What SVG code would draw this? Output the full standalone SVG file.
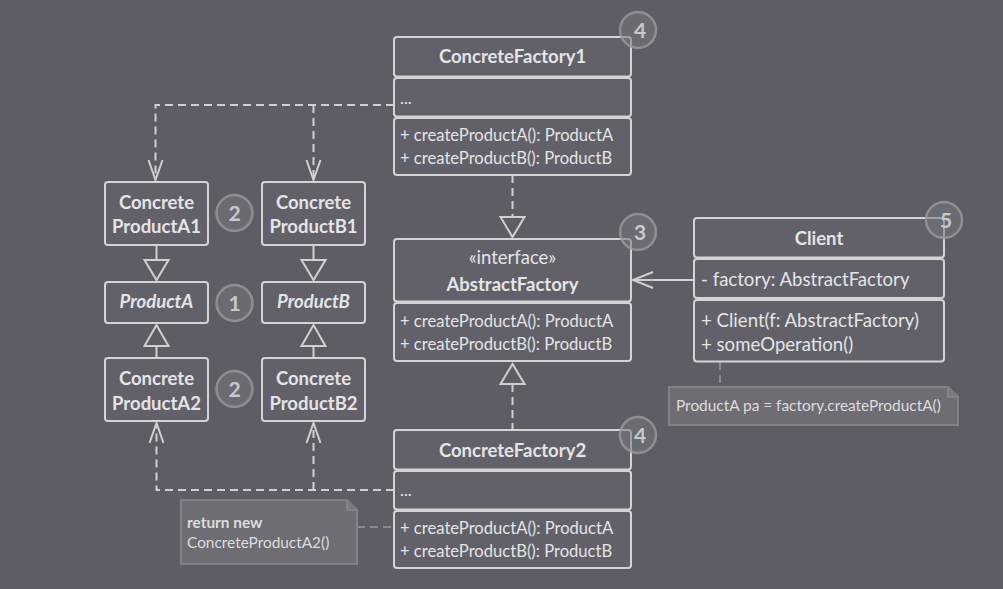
<svg xmlns="http://www.w3.org/2000/svg" width="1003" height="589" viewBox="0 0 1003 589">
<style>
.box{fill:#62616a;stroke:#d4d4d4;stroke-width:2}
.t{font-family:Lato,"Liberation Sans",sans-serif;fill:#e4e4e4}
.title{font-size:18.5px;font-weight:bold;text-anchor:middle}
.m{font-size:16.6px}
.cm{font-size:18.6px}
.note{fill:#6e6d74;stroke:#828188;stroke-width:2}
.nt{font-family:Lato,"Liberation Sans",sans-serif;fill:#dcdcdc;font-size:15.4px}
.dash{fill:none;stroke:#d0d0d0;stroke-width:2;stroke-dasharray:8 5}
.solid{fill:none;stroke:#d0d0d0;stroke-width:2}
.tri{fill:#5e5d65;stroke:#d0d0d0;stroke-width:2;stroke-linejoin:miter}
.badge circle{fill:#77767d;fill-opacity:0.55;stroke:#9a999f;stroke-opacity:0.8;stroke-width:2.5}
.badge text{font-family:Lato,"Liberation Sans",sans-serif;font-weight:bold;font-size:21px;fill:#c9c9cc;text-anchor:middle}
</style>
<rect width="1003" height="589" fill="#5e5d65"/>

<g id="connectors">
  <path class="dash" d="M394,105 H155.5 V178"/>
  <path class="dash" d="M313.5,105 V178"/>
  <polyline class="solid" points="148.5,160 155.5,180 162.5,160"/>
  <polyline class="solid" points="306.5,160 313.5,180 320.5,160"/>
  <path class="dash" d="M394,490 H156.5 V425"/>
  <path class="dash" d="M313.5,490 V425"/>
  <polyline class="solid" points="149.5,443 156.5,423 163.5,443"/>
  <polyline class="solid" points="306.5,443 313.5,423 320.5,443"/>
  <line class="solid" x1="156.5" y1="245" x2="156.5" y2="260"/>
  <polygon class="tri" points="144.5,260 168.5,260 156.5,280"/>
  <line class="solid" x1="313.5" y1="245" x2="313.5" y2="260"/>
  <polygon class="tri" points="301.5,260 325.5,260 313.5,280"/>
  <line class="solid" x1="156.5" y1="346" x2="156.5" y2="358"/>
  <polygon class="tri" points="144.5,346 168.5,346 156.5,325"/>
  <line class="solid" x1="313.5" y1="346" x2="313.5" y2="358"/>
  <polygon class="tri" points="301.5,346 325.5,346 313.5,325"/>
  <path class="dash" d="M512.5,175 V217"/>
  <polygon class="tri" points="500.5,217 524.5,217 512.5,237"/>
  <path class="dash" d="M512.5,384 V430"/>
  <polygon class="tri" points="500.5,384 524.5,384 512.5,364"/>
  <line class="solid" x1="694" y1="280" x2="633" y2="280"/>
  <polyline class="solid" points="653,272 633,280 653,288"/>
  <path class="dash" d="M720,362 V387" style="stroke:#8a898f"/>
  <path class="dash" d="M357,527 H394" style="stroke:#8a898f"/>
</g>

<g id="ConcreteFactory1">
  <rect class="box" x="394" y="37" width="237" height="39.5" rx="3"/>
  <rect class="box" x="394" y="78" width="237" height="38.5" rx="3"/>
  <rect class="box" x="394" y="118" width="237" height="57" rx="3"/>
  <text class="t title" x="512.5" y="63">ConcreteFactory1</text>
  <text class="t m" x="400" y="104">...</text>
  <text class="t m" x="400" y="141">+ createProductA(): ProductA</text>
  <text class="t m" x="400" y="164">+ createProductB(): ProductB</text>
</g>

<g id="AbstractFactory">
  <rect class="box" x="394" y="239" width="237" height="62.5" rx="3"/>
  <rect class="box" x="394" y="303" width="237" height="58" rx="3"/>
  <text class="t" x="512.5" y="264" text-anchor="middle" font-size="18.5">«interface»</text>
  <text class="t title" x="512.5" y="291">AbstractFactory</text>
  <text class="t m" x="400" y="327">+ createProductA(): ProductA</text>
  <text class="t m" x="400" y="350">+ createProductB(): ProductB</text>
</g>

<g id="ConcreteFactory2">
  <rect class="box" x="394" y="430" width="237" height="39.5" rx="3"/>
  <rect class="box" x="394" y="471" width="237" height="38.5" rx="3"/>
  <rect class="box" x="394" y="511" width="237" height="57" rx="3"/>
  <text class="t title" x="512.5" y="457">ConcreteFactory2</text>
  <text class="t m" x="400" y="496">...</text>
  <text class="t m" x="400" y="534">+ createProductA(): ProductA</text>
  <text class="t m" x="400" y="557">+ createProductB(): ProductB</text>
</g>

<g id="Client">
  <rect class="box" x="694" y="218" width="250" height="39.5" rx="3"/>
  <rect class="box" x="694" y="259" width="250" height="39" rx="3"/>
  <rect class="box" x="694" y="300" width="250" height="61.5" rx="3"/>
  <text class="t title" x="819" y="245">Client</text>
  <text class="t cm" x="701" y="286">- factory: AbstractFactory</text>
  <text class="t cm" x="701" y="327">+ Client(f: AbstractFactory)</text>
  <text class="t cm" x="701" y="351">+ someOperation()</text>
</g>

<g id="ConcreteProductA1">
  <rect class="box" x="105" y="182" width="103" height="63" rx="3"/>
  <text class="t title" x="156.5" y="209">Concrete</text>
  <text class="t title" x="156.5" y="233">ProductA1</text>
</g>
<g id="ConcreteProductB1">
  <rect class="box" x="262" y="182" width="103" height="63" rx="3"/>
  <text class="t title" x="313.5" y="209">Concrete</text>
  <text class="t title" x="313.5" y="233">ProductB1</text>
</g>
<g id="ProductA">
  <rect class="box" x="105" y="282" width="103" height="41" rx="3"/>
  <text class="t title" x="156.5" y="308" font-style="italic">ProductA</text>
</g>
<g id="ProductB">
  <rect class="box" x="262" y="282" width="103" height="41" rx="3"/>
  <text class="t title" x="313.5" y="308" font-style="italic">ProductB</text>
</g>
<g id="ConcreteProductA2">
  <rect class="box" x="105" y="358" width="103" height="63" rx="3"/>
  <text class="t title" x="156.5" y="385">Concrete</text>
  <text class="t title" x="156.5" y="410">ProductA2</text>
</g>
<g id="ConcreteProductB2">
  <rect class="box" x="262" y="358" width="103" height="63" rx="3"/>
  <text class="t title" x="313.5" y="385">Concrete</text>
  <text class="t title" x="313.5" y="410">ProductB2</text>
</g>

<g id="note-client">
  <path class="note" d="M669,387 H948 L958,397 V425 H669 Z"/>
  <path class="note" d="M948,387 V397 H958" style="fill:#7a797f"/>
  <text class="nt" x="676" y="411">ProductA pa = factory.createProductA()</text>
</g>
<g id="note-factory2">
  <path class="note" d="M181,500 H347 L357,510 V564 H181 Z"/>
  <path class="note" d="M347,500 V510 H357" style="fill:#7a797f"/>
  <text class="nt" x="187" y="528" font-weight="bold" font-size="16.4">return new</text>
  <text class="nt" x="187" y="548" font-size="16.6">ConcreteProductA2()</text>
</g>

<g id="badge-1" class="badge"><circle cx="234.5" cy="303" r="18"/><text x="234.5" y="310.5">1</text></g>
<g id="badge-2a" class="badge"><circle cx="234.5" cy="213" r="18"/><text x="234.5" y="220.5">2</text></g>
<g id="badge-2b" class="badge"><circle cx="234.5" cy="389" r="18"/><text x="234.5" y="396.5">2</text></g>
<g id="badge-3" class="badge"><circle cx="638" cy="232" r="18"/><text x="640" y="239.5">3</text></g>
<g id="badge-4a" class="badge"><circle cx="638" cy="30" r="18"/><text x="640" y="37.5">4</text></g>
<g id="badge-4b" class="badge"><circle cx="638" cy="435" r="18"/><text x="640" y="442.5">4</text></g>
<g id="badge-5" class="badge"><circle cx="944" cy="220" r="18"/><text x="946" y="227.5">5</text></g>
</svg>
